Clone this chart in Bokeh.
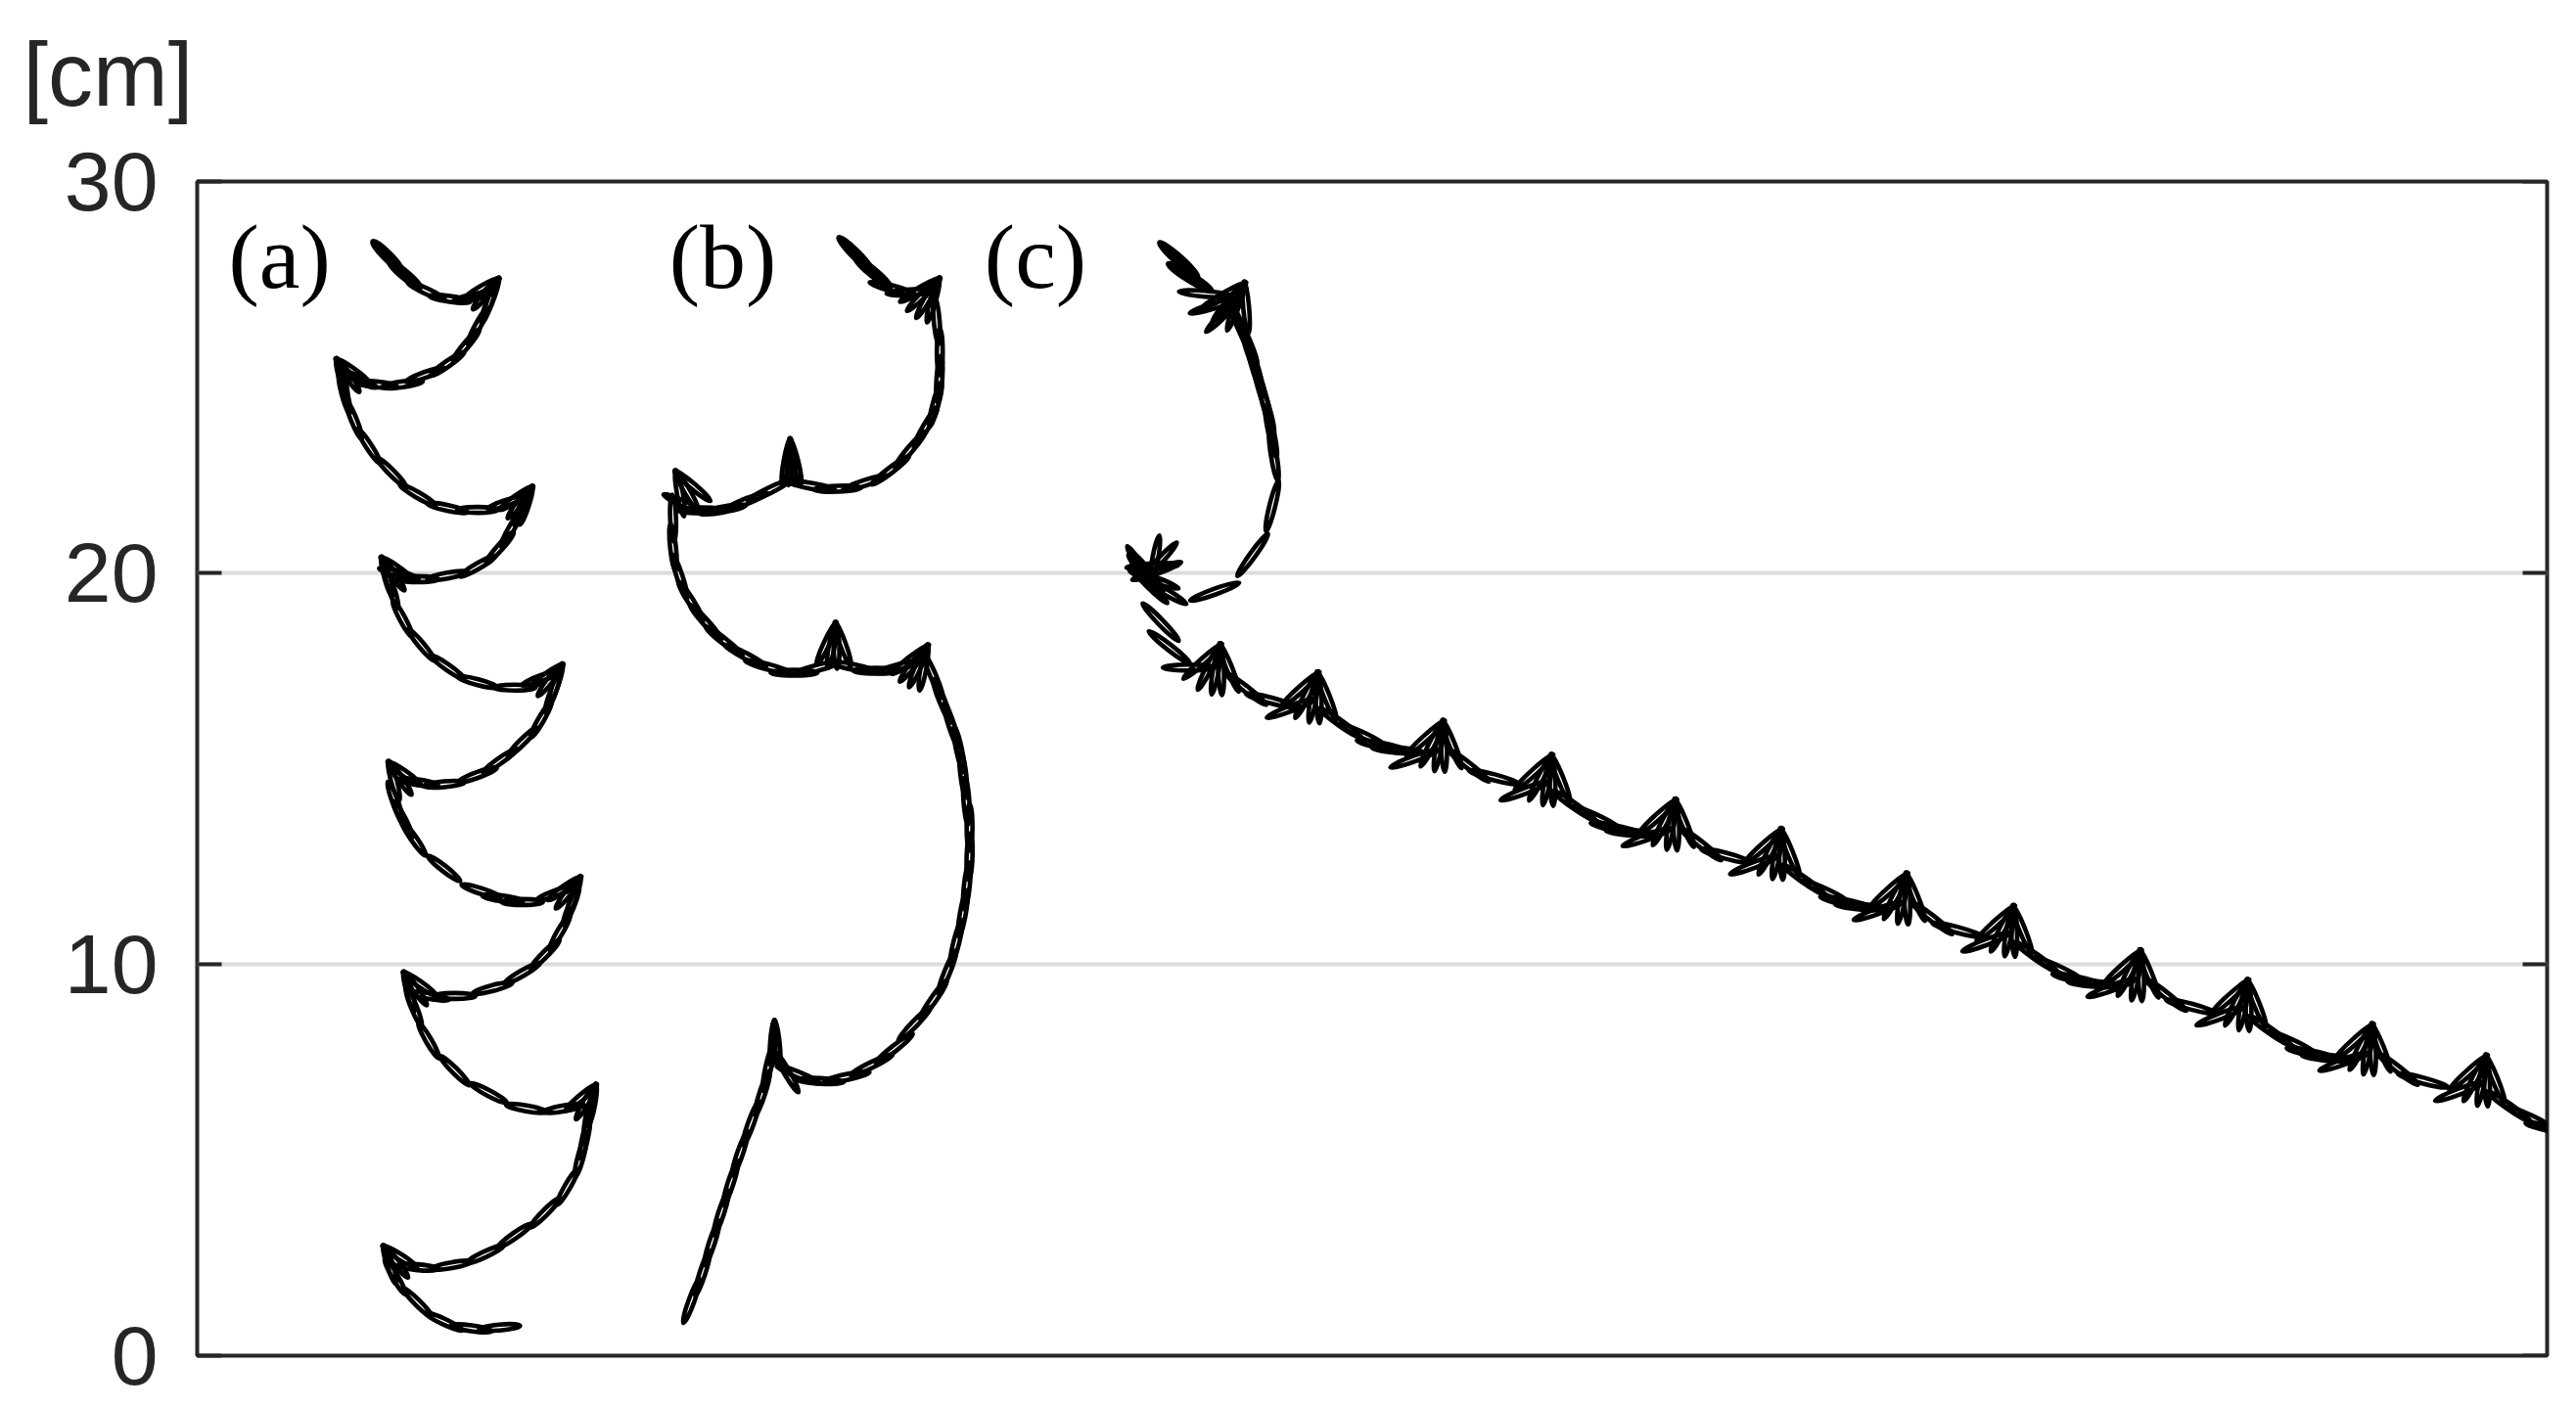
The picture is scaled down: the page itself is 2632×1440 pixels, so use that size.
import numpy as np
from bokeh.plotting import figure
from bokeh.models import Range1d, FixedTicker, Title
from bokeh.core.properties import value
from bokeh.embed import file_html
from bokeh.resources import INLINE

# ---------------- data (cm) ----------------
Y_TICKS = [0, 10, 20, 30]
Y_TICK_LABELS = ["0", "10", "20", "30"]
Y_UNIT = "[cm]"

PANEL_LABELS = ["(a)", "(b)", "(c)"]
PANEL_X = [0.8, 12.05, 20.1]
PANEL_Y = [28.1, 28.1, 28.1]

# (a) fluttering : plate centres and orientations (deg)
A_FAT_X = [4.85, 5.30]
A_FAT_Y = [28.10, 27.62]
A_FAT_ANG = [-45, -40]
A_X = [5.85, 6.45, 7.05, 7.44, 7.16, 6.87, 6.39, 5.82, 5.24, 4.57, 4.10,
       3.76, 4.00, 4.38, 4.96, 5.63, 6.39, 7.16, 7.92,
       8.30, 8.02, 7.73, 7.16, 6.39, 5.63, 5.15,
       4.96, 5.24, 5.72, 6.39, 7.16, 8.11, 8.78,
       9.07, 8.78, 8.30, 7.73, 7.16, 6.30, 5.63,
       5.05, 5.25, 5.53, 6.30, 7.25, 7.80, 8.30, 9.16,
       9.55, 9.26, 8.88, 8.30, 7.54, 6.58, 5.91,
       5.53, 5.91, 6.58, 7.44, 8.40, 9.36,
       9.98, 9.90, 9.79, 9.45, 8.88, 8.11, 7.35, 6.49, 5.63,
       5.05, 5.63, 6.30, 7.00, 7.72]
A_Y = [27.20, 27.00, 27.05, 26.87, 26.30, 25.82, 25.34, 25.06, 24.82, 24.82, 24.96,
       24.58, 23.91, 23.24, 22.57, 21.99, 21.66, 21.61, 21.80,
       21.70, 21.13, 20.65, 20.17, 19.93, 19.84, 19.98,
       19.60, 18.83, 18.16, 17.59, 17.21, 17.07, 17.31,
       16.92, 16.25, 15.68, 15.20, 14.84, 14.60, 14.65,
       14.17, 13.70, 13.21, 12.45, 11.87, 11.68, 11.59, 11.82,
       11.49, 10.82, 10.25, 9.77, 9.39, 9.19, 9.19,
       8.91, 8.05, 7.28, 6.71, 6.32, 6.32,
       6.04, 5.55, 5.08, 4.31, 3.65, 3.07, 2.59, 2.31, 2.26,
       2.02, 1.35, 0.87, 0.70, 0.72]
A_ANG = [-25, -8, 12, 70, 62, 50, 35, 20, 8, -5, -25,
         -75, -68, -57, -45, -30, -12, 0, 18,
         68, 60, 48, 30, 10, 0, -15,
         -72, -62, -50, -35, -15, 0, 20,
         70, 60, 45, 35, 20, 5, -8,
         -70, -63, -55, -38, -18, -8, 0, 20,
         68, 60, 45, 30, 15, 0, -10,
         -68, -60, -45, -28, -10, 10,
         80, 78, 75, 60, 45, 35, 25, 10, -5,
         -60, -45, -25, -8, 5]
# turning points of (a) and the orientations fanned out from them
A_TIP_X = [7.68, 3.57, 8.54, 4.72, 9.31, 4.90, 9.77, 5.29, 10.17, 4.77]
A_TIP_Y = [27.50, 25.44, 22.18, 20.37, 17.64, 15.15, 12.21, 9.77, 6.90, 2.78]
A_TIP_FAN = [[30, 50, 70], [-75, -55, -35], [35, 52, 72], [-75, -55, -35],
             [35, 52, 72], [-75, -55, -35], [35, 52, 72], [-75, -55, -35],
             [40, 60, 80], [-72, -52, -32]]

# (b) chaotic
B_FAT_X = [16.80, 17.25]
B_FAT_Y = [28.15, 27.68]
B_FAT_ANG = [-45, -40]
B_X = [17.75, 18.20,
       18.88, 18.96, 18.95, 18.85, 18.60, 18.20, 17.70, 17.05, 16.35, 15.70,
       14.60, 14.00, 13.42, 12.85, 12.45,
       12.15, 12.15, 12.32, 12.60, 12.98, 13.45, 14.00, 14.57, 15.24, 15.82,
       16.77, 17.35, 17.92,
       18.80, 19.02, 19.26, 19.45, 19.56, 19.64, 19.72, 19.72, 19.65, 19.55,
       19.38, 19.15, 18.80, 18.32, 17.80, 17.22, 16.58, 15.91, 15.35, 15.05,
       14.58, 14.43, 14.14, 13.86, 13.62, 13.38, 13.14, 12.90, 12.62]
B_Y = [27.27, 27.17,
       26.45, 25.65, 24.95, 24.30, 23.72, 23.15, 22.62, 22.30, 22.15, 22.22,
       22.10, 21.82, 21.62, 21.60, 21.75,
       21.40, 20.65, 19.90, 19.28, 18.74, 18.26, 17.88, 17.60, 17.45, 17.57,
       17.59, 17.50, 17.60,
       17.35, 16.73, 16.10, 15.49, 14.85, 14.17, 13.50, 12.75, 12.00, 11.30,
       10.55, 9.80, 9.10, 8.48, 7.85, 7.43, 7.12, 7.02, 7.18, 7.25,
       7.35, 6.71, 5.94, 5.17, 4.41, 3.65, 2.88, 2.11, 1.40]
B_ANG = [-15, 3,
         -85, 90, 86, 75, 60, 50, 37, 18, 2, -10,
         26, 22, 10, 0, -25,
         -88, -84, -72, -58, -48, -38, -28, -15, 0, 15,
         -12, 0, 15,
         -67, -68, -72, -78, -83, -86, -90, 88, 84, 80,
         76, 68, 55, 46, 38, 26, 12, -3, -22, -60,
         78, 72, 70, 71, 72, 72, 72, 72, 70]
B_TIP_X = [18.93, 15.14, 12.23, 16.30, 18.64, 14.74]
B_TIP_Y = [27.50, 23.38, 22.57, 18.69, 18.12, 8.52]
B_TIP_FAN = [[30, 45, 60, 75], [80, 88, 96, 104], [-80, -60, -40], [65, 80, 92, 110],
             [38, 52, 66, 80], [86, 96]]

# (c) tumbling
C_FAT_X = [25.06, 25.35]
C_FAT_Y = [28.00, 27.55]
C_FAT_ANG = [-42, -32]
C_X = [25.73, 25.98, 26.23,
       26.53, 26.67, 26.81, 26.93, 27.04, 27.18, 27.31, 27.42, 27.49, 27.45, 26.95, 25.98,
       24.39, 24.56, 24.45, 24.10, 24.43, 24.68, 24.25, 24.30, 24.20, 24.50,
       24.60, 24.82, 25.32,
       26.77, 27.42, 27.93,
       29.19, 29.73, 30.26, 30.66, 31.09,
       32.46, 33.11, 33.90,
       35.16, 35.70, 36.23, 36.63, 37.02,
       38.39, 39.04, 39.76,
       41.02, 41.56, 42.09, 42.49, 42.92,
       44.29, 44.94, 45.69,
       46.95, 47.49, 48.02, 48.42, 48.89,
       50.26, 50.91, 51.67,
       52.93, 53.47, 54.00, 54.40, 54.81,
       56.18, 56.83, 57.76,
       59.02, 59.56, 60.10]
C_Y = [27.13, 26.83, 26.63,
       26.52, 26.20, 25.92, 25.50, 25.13, 24.65, 24.19, 23.60, 23.00, 21.71, 20.46, 19.52,
       20.17, 20.29, 20.30, 20.12, 19.83, 19.54, 20.05, 19.70, 19.95, 20.05,
       18.74, 18.10, 17.58,
       17.04, 16.74, 16.54,
       16.16, 15.87, 15.58, 15.47, 15.26,
       15.08, 14.78, 14.43,
       14.05, 13.76, 13.47, 13.36, 13.25,
       13.07, 12.77, 12.54,
       12.16, 11.87, 11.58, 11.47, 11.36,
       11.18, 10.88, 10.57,
       10.19, 9.90, 9.61, 9.50, 9.40,
       9.22, 8.92, 8.68,
       8.30, 8.01, 7.72, 7.61, 7.51,
       7.33, 7.03, 6.75,
       6.37, 6.08, 5.80]
C_ANG = [-5, 17, 45,
         -67, -67, -67, -70, -72, -73, -74, -78, -81, 76, 54, 20,
         3, 47, 80, -58, -20, -30, 130, -45, -50, 20,
         -46, -38, 0,
         -38, -15, 21,
         -35, -25, -12, -5, 20,
         -38, -15, 21,
         -35, -25, -12, -5, 20,
         -38, -15, 21,
         -35, -25, -12, -5, 20,
         -38, -15, 21,
         -35, -25, -12, -5, 20,
         -38, -15, 21,
         -35, -25, -12, -5, 20,
         -38, -15, 21,
         -35, -25, -12]
C_TOP_TIP_X = [26.73]
C_TOP_TIP_Y = [27.38]
C_TOP_FAN = [30, 50, 70, 95]
C_TIP_X = [26.12, 28.61, 31.81, 34.58, 37.74, 40.44, 43.64, 46.37, 49.61, 52.35, 55.53, 58.44]
C_TIP_Y = [18.14, 17.42, 16.18, 15.31, 14.17, 13.42, 12.28, 11.45, 10.32, 9.56, 8.43, 7.63]
C_FAN = [42, 63, 80, 92, 112]

# ---------------- glyph style ----------------
L_A, L_B, L_C = 1.05, 1.2, 1.33
W_PLATE = 0.15
W_FAT = 0.2
LW = 4.6
INK = "#262626"
TICK_LEN = 25 / 40.0   # 25 px expressed in cm (40 px per cm)


def fan_centres(tx, ty, fans, length):
    """Ellipses whose upper end sits on the turning point."""
    xs, ys, ang = [], [], []
    for x0, y0, angles in zip(tx, ty, fans):
        for a in angles:
            t = np.deg2rad(a % 180)
            xs.append(x0 - 0.45 * length * np.cos(t))
            ys.append(y0 - 0.45 * length * np.sin(t))
            ang.append(a)
    return xs, ys, ang


p = figure(frame_width=2401, frame_height=1200,
           x_range=Range1d(0, 60), y_range=Range1d(0, 30),
           output_backend="svg", toolbar_location=None,
           min_border_left=201, min_border_right=30,
           min_border_top=185, min_border_bottom=55)
p.background_fill_color = "white"
p.border_fill_color = "white"
p.outline_line_color = INK
p.outline_line_width = 4
p.outline_line_alpha = 1.0

# unit label: the title, top aligned, with a thin spacer panel below it
p.title.text = Y_UNIT
p.title.align = "left"
p.title.vertical_align = "top"
p.title.offset = -178
p.title.standoff = 41
p.title.text_font = "Liberation Sans"
p.title.text_font_size = "92px"
p.title.text_font_style = "normal"
p.title.text_color = INK
p.add_layout(Title(text=" ", text_font_size="2px", standoff=32,
                   text_color="white"), "above")

p.xaxis.visible = False
p.xgrid.visible = False

ticker = FixedTicker(ticks=Y_TICKS)
ya = p.yaxis[0]
ya.ticker = ticker
ya.major_label_overrides = {t: s for t, s in zip(Y_TICKS, Y_TICK_LABELS)}
ya.axis_line_color = None
ya.major_tick_in = 25
ya.major_tick_out = 0
ya.major_tick_line_width = 4
ya.major_tick_line_color = INK
ya.minor_tick_line_color = None
ya.major_label_text_font = "Liberation Sans"
ya.major_label_text_font_size = "86px"
ya.major_label_text_color = INK
ya.major_label_standoff = 40

# inward ticks on the right frame edge
p.segment(x0=[60 - TICK_LEN] * len(Y_TICKS), y0=Y_TICKS,
          x1=[60] * len(Y_TICKS), y1=Y_TICKS, line_color=INK, line_width=4)

p.ygrid.ticker = ticker
p.ygrid.grid_line_color = "#dcdcdc"
p.ygrid.grid_line_width = 4

style = dict(fill_color=None, line_color="black", line_width=LW, angle_units="deg")

for fx, fy, fa, x, y, a, tx, ty, tf, L in [
    (A_FAT_X, A_FAT_Y, A_FAT_ANG, A_X, A_Y, A_ANG, A_TIP_X, A_TIP_Y, A_TIP_FAN, L_A),
    (B_FAT_X, B_FAT_Y, B_FAT_ANG, B_X, B_Y, B_ANG, B_TIP_X, B_TIP_Y, B_TIP_FAN, L_B),
    (C_FAT_X, C_FAT_Y, C_FAT_ANG, C_X, C_Y, C_ANG,
     C_TOP_TIP_X + C_TIP_X, C_TOP_TIP_Y + C_TIP_Y,
     [C_TOP_FAN] + [C_FAN] * len(C_TIP_X), L_C),
]:
    p.ellipse(x=fx, y=fy, width=L, height=W_FAT, angle=fa, angle_units="deg",
              fill_color="black", line_color="black", line_width=LW)
    p.ellipse(x=x, y=y, width=L, height=W_PLATE, angle=a, **style)
    fxs, fys, fas = fan_centres(tx, ty, tf, L)
    p.ellipse(x=fxs, y=fys, width=L, height=W_PLATE, angle=fas, **style)

p.text(x=PANEL_X, y=PANEL_Y, text=PANEL_LABELS, text_font=value("Liberation Serif"),
       text_font_size="94px", text_color="black", text_align="left",
       text_baseline="alphabetic")

open("out.html", "w").write(file_html(p, INLINE))
